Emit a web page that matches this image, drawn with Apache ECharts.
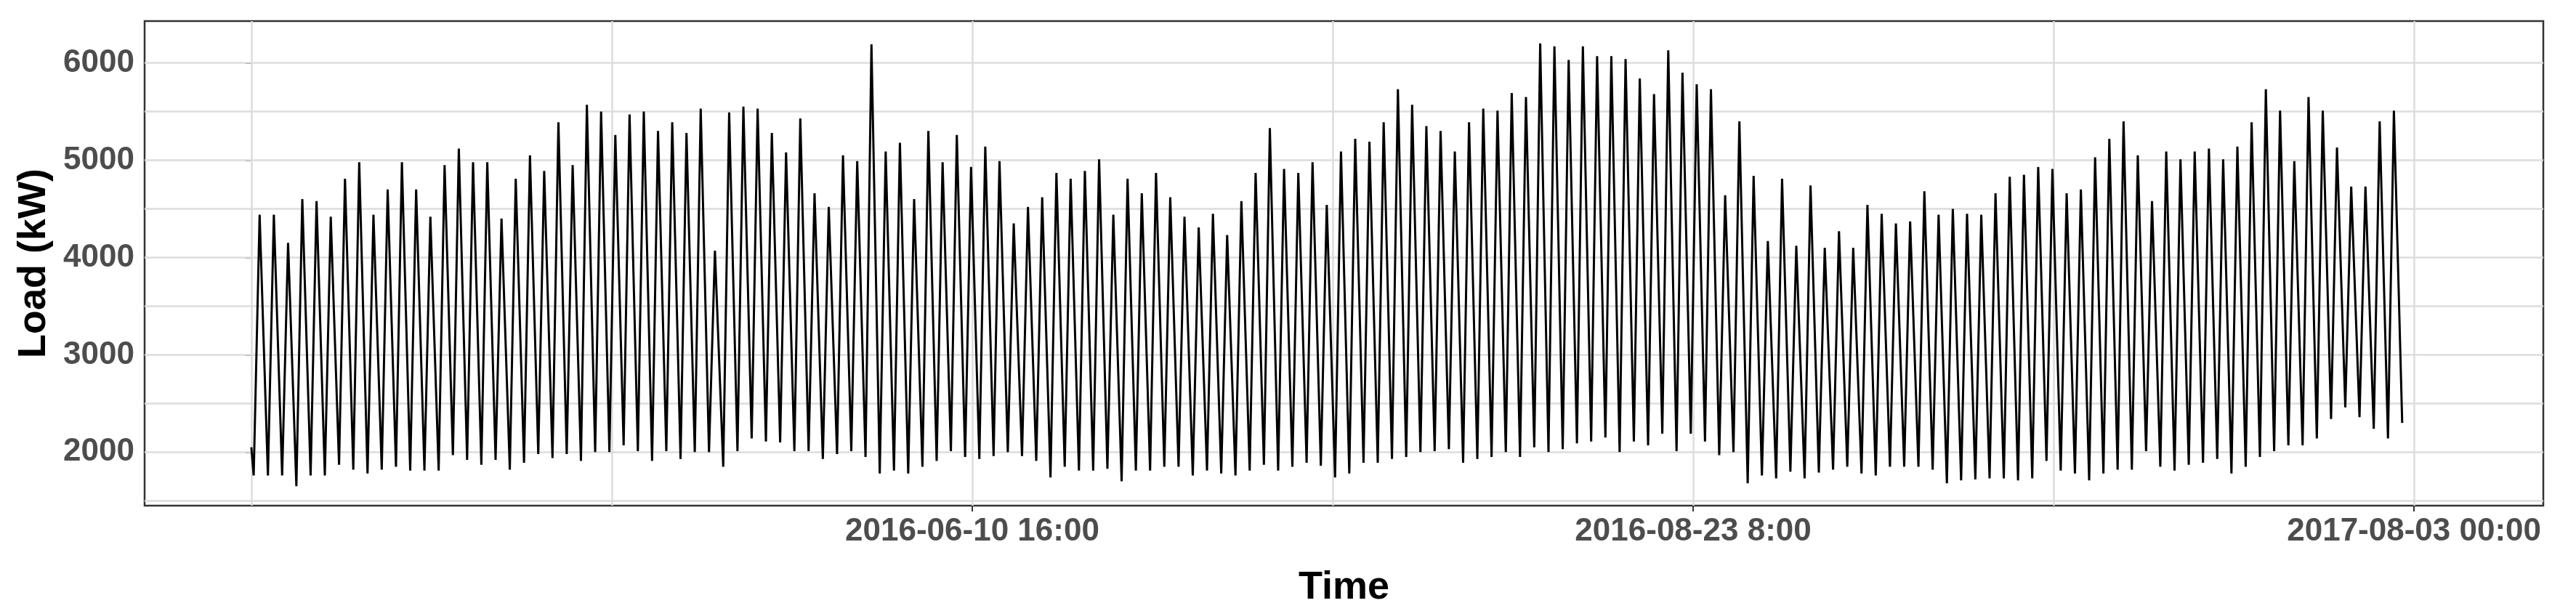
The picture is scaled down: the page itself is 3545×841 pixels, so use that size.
<!DOCTYPE html>
<html><head><meta charset="utf-8">
<script src="https://cdn.jsdelivr.net/npm/echarts@6/dist/echarts.min.js"></script>
<style>html,body{margin:0;padding:0;background:#fff}#c{width:3545px;height:841px}</style>
</head><body><div id="c"></div>
<script>
// daily trough values (kW), one per day
const dailyLows = [
1760,1760,1760,1650,1760,1760,1870,1820,1780,1820,1850,1810,1810,1810,1970,1920,1870,1920,1820,1890,1980,1940,1980,1910,2000,
2000,2070,2010,1910,2010,1930,2000,2000,1850,2010,2140,2110,2100,2010,2010,1930,1980,2010,1950,1780,1810,1780,1850,1910,2010,1950,
1930,1960,2000,1960,1910,1740,1850,1810,1810,1830,1700,1810,1810,1850,1850,1760,1810,1780,1760,1810,1870,1810,1850,1890,1860,
1740,1780,1890,1890,1930,1950,2000,2010,2030,1890,1930,1950,2000,1950,2050,2000,2030,2090,2110,2150,2000,2110,2070,2190,2010,2190,
2110,1970,2000,1680,1760,1730,1800,1730,1790,1820,1850,1780,1760,1850,1850,1850,1820,1680,1710,1720,1730,1730,1710,1730,1910,
1810,1780,1710,1780,1820,1820,2010,1850,1810,1870,1890,1930,1780,1850,1950,2010,2070,2070,2140,2340,2460,2360,2240,2140,2300
];
// daily peak values (kW), one per day
const dailyPeaks = [
4440,4440,4150,4600,4580,4420,4810,4980,4440,4700,4980,4700,4420,4950,5120,4980,4980,4400,4810,5050,4890,5390,4950,5570,5500,
5260,5470,5500,5300,5390,5280,5530,4070,5490,5550,5530,5280,5080,5430,4660,4520,5050,4990,6190,5090,5180,4600,5300,4980,5260,4930,
5140,4990,4350,4520,4620,4870,4810,4890,5010,4440,4810,4660,4870,4620,4420,4310,4450,4230,4580,4870,5330,4910,4870,4980,4540,
5090,5220,5190,5390,5730,5570,5350,5300,5090,5390,5530,5510,5690,5650,6200,6170,6030,6170,6070,6070,6040,5840,5680,6130,5900,
5780,5730,4640,5400,4840,4170,4810,4120,4740,4100,4270,4100,4540,4450,4350,4370,4680,4440,4500,4450,4440,4660,4830,4850,4930,
4910,4660,4700,5030,5220,5400,5050,4580,5090,5010,5090,5120,5010,5140,5390,5730,5510,4990,5650,5510,5130,4730,4730,5400,5510
];
const startLoad = 2050;
const endLoad = 2750;
const xTickLabels = ["2016-06-10 16:00", "2016-08-23 8:00", "2017-08-03 00:00"];
const yLabels = [2000, 3000, 4000, 5000, 6000];
const yGrid = [1500, 2000, 2500, 3000, 3500, 4000, 4500, 5000, 5500, 6000];

const H = 24, LOW_H = 4, PEAK_H = 14;
const nDays = dailyLows.length;
const span = nDays * H;
const series = [[0, startLoad]];
for (let d = 0; d < nDays; d++) {
  series.push([d * H + LOW_H, dailyLows[d]]);
  series.push([d * H + PEAK_H, dailyPeaks[d]]);
}
series.push([span, endLoad]);
const xGrid = [0,1,2,3,4,5,6].map(k => k * span / 6);
const xLabelPos = [2,4,6].map(k => k * span / 6);
const labelMap = {};
xLabelPos.forEach((p, i) => labelMap[p] = xTickLabels[i]);

const chart = echarts.init(document.getElementById('c'));
const tickFont = {fontFamily: 'Liberation Sans, Arial', fontWeight: 'bold', fontSize: 44, color: '#4d4d4d'};
chart.setOption({
  animation: false,
  grid: {left: 199, right: 45, top: 29, bottom: 145, show: true, borderColor: '#333', borderWidth: 2.5, backgroundColor: '#fff'},
  xAxis: {
    type: 'value', min: -180, max: span + 218,
    name: 'Time', nameLocation: 'middle', nameGap: 86,
    nameTextStyle: {fontFamily: 'Liberation Sans, Arial', fontWeight: 'bold', fontSize: 54, color: '#000'},
    axisLine: {show: false},
    axisTick: {show: true, customValues: xLabelPos, length: 8, lineStyle: {color: '#333', width: 2}},
    axisLabel: Object.assign({customValues: xLabelPos, margin: 14, formatter: v => labelMap[v] || ''}, tickFont),
    splitLine: {show: false}
  },
  yAxis: {
    type: 'value', min: 1450, max: 6430,
    name: 'Load (kW)', nameLocation: 'middle', nameGap: 125, nameRotate: 90,
    nameTextStyle: {fontFamily: 'Liberation Sans, Arial', fontWeight: 'bold', fontSize: 54, color: '#000'},
    axisLine: {show: false},
    axisTick: {show: true, customValues: yLabels, length: 8, lineStyle: {color: '#333', width: 2}},
    axisLabel: Object.assign({customValues: yLabels, margin: 14, formatter: v => String(v)}, tickFont),
    splitLine: {show: false}
  },
  series: [
    {type: 'line', data: series, symbol: 'none', lineStyle: {color: '#000', width: 3}, z: 5,
     markLine: {silent: true, symbol: 'none', label: {show: false}, z: 1,
       lineStyle: {color: '#dcdcdc', width: 2.5, type: 'solid'},
       data: xGrid.map(v => ({xAxis: v})).concat(yGrid.map(v => ({yAxis: v})))}}
  ]
});
</script></body></html>
